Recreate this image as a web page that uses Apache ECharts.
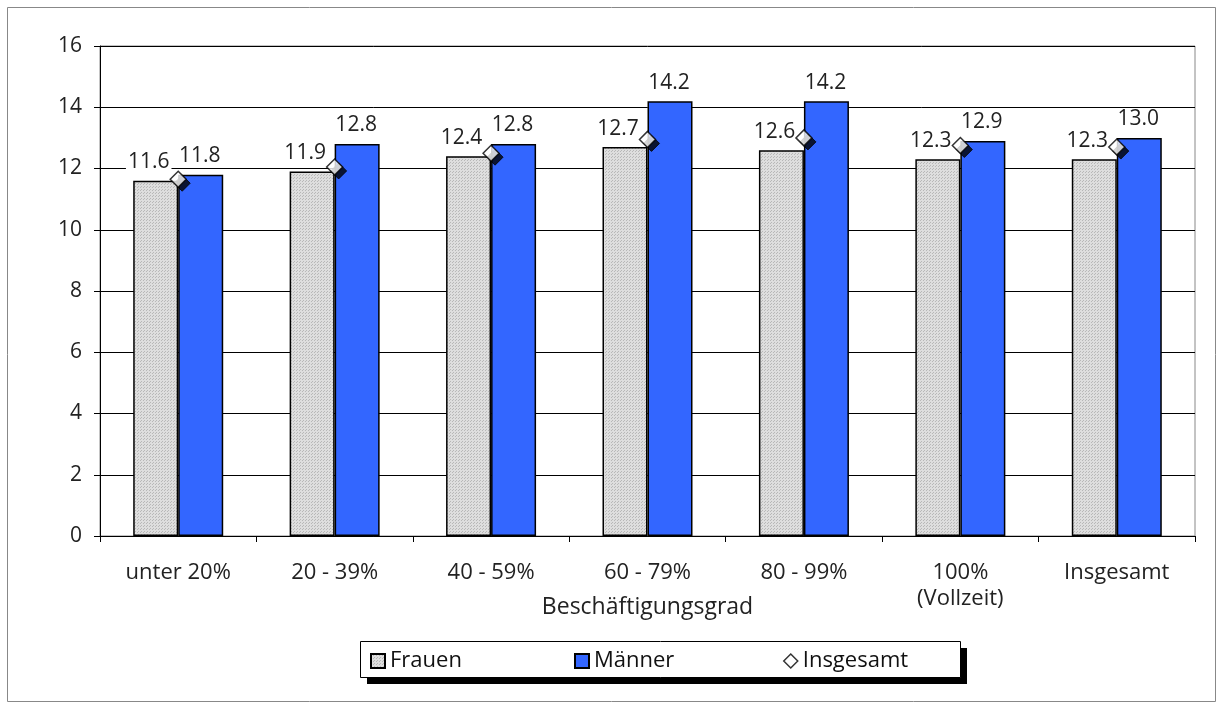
<!DOCTYPE html>
<html>
<head>
<meta charset="utf-8">
<script src="https://cdn.jsdelivr.net/npm/echarts@6/dist/echarts.min.js"></script>
<style>
html,body{margin:0;padding:0;background:#fff;}
#c{width:1218px;height:704px;}
</style>
</head>
<body>
<div id="c"></div>
<script>
const categories = ['unter 20%', '20 - 39%', '40 - 59%', '60 - 79%', '80 - 99%', '100%\n(Vollzeit)', 'Insgesamt'];
const frauen = [11.6, 11.9, 12.4, 12.7, 12.6, 12.3, 12.3];
const maenner = [11.8, 12.8, 12.8, 14.2, 14.2, 12.9, 13.0];
const insgesamt = [11.65, 12.05, 12.5, 12.95, 13.0, 12.75, 12.7];
const yTicks = [0, 2, 4, 6, 8, 10, 12, 14, 16];

const FONT = '"Open Sans", "Noto Sans", sans-serif';
const FS = 21;

function makePattern() {
  const cv = document.createElement('canvas');
  cv.width = 3; cv.height = 3;
  const ctx = cv.getContext('2d');
  ctx.fillStyle = '#dedede';
  ctx.fillRect(0, 0, 3, 3);
  ctx.fillStyle = '#b8b8b8';
  ctx.fillRect(0, 0, 1, 1);
  ctx.fillRect(2, 1, 1, 1);
  return cv;
}
const pattern = { image: makePattern(), repeat: 'repeat' };

const chart = echarts.init(document.getElementById('c'), null, { renderer: 'canvas' });

const labelCommon = {
  show: true,
  position: 'top',
  distance: 8,
  fontSize: FS,
  fontFamily: FONT,
  color: '#222',
  backgroundColor: '#fff',
  padding: [0, 2, 0, 2],
  formatter: p => p.value.toFixed(1)
};
const legendText = { fontSize: 22, fontFamily: FONT, color: '#111' };

const option = {
  animation: false,
  backgroundColor: '#fff',
  textStyle: { fontFamily: FONT },
  grid: { left: 100, right: 23, top: 46, bottom: 168, show: true, borderColor: '#888', borderWidth: 1 },
  graphic: [
    { type: 'rect', z: -10, shape: { x: 7.5, y: 7.5, width: 1208, height: 694 }, style: { fill: 'none', stroke: '#888', lineWidth: 1 } },
    { type: 'rect', z: 0, shape: { x: 367, y: 648, width: 600, height: 36 }, style: { fill: '#000' } },
    { type: 'rect', z: 1, shape: { x: 360.5, y: 641.5, width: 600, height: 36 }, style: { fill: '#fff', stroke: '#000', lineWidth: 1 } }
  ],
  legend: [
    { data: [{ name: 'Frauen', icon: 'rect' }], left: 365, top: 645, itemWidth: 14, itemHeight: 14, z: 10,
      textStyle: legendText },
    { data: [{ name: 'Männer', icon: 'rect' }], left: 569, top: 645, itemWidth: 14, itemHeight: 14, z: 10,
      textStyle: legendText },
    { data: [{ name: 'Insgesamt', itemStyle: { color: '#fff', borderColor: '#000', borderWidth: 1.5 } }], left: 778, top: 645, itemWidth: 14, itemHeight: 14, z: 10,
      textStyle: legendText }
  ],
  xAxis: {
    type: 'category',
    data: categories,
    name: 'Beschäftigungsgrad',
    nameLocation: 'middle',
    nameGap: 60,
    nameMoveOverlap: false,
    nameTextStyle: { fontSize: 23, fontFamily: FONT, color: '#222' },
    axisLine: { lineStyle: { color: '#000', width: 1 } },
    axisTick: { show: true, length: 6, lineStyle: { color: '#000' } },
    axisLabel: { fontSize: 22, fontFamily: FONT, color: '#222', margin: 24, lineHeight: 26, interval: 0 }
  },
  yAxis: {
    type: 'value',
    min: 0, max: 16, interval: 2,
    axisLine: { show: true, lineStyle: { color: '#000', width: 1 } },
    axisTick: { show: true, length: 6, lineStyle: { color: '#000' } },
    axisLabel: { fontSize: FS, fontFamily: FONT, color: '#222', margin: 18,
      formatter: v => yTicks.includes(v) ? String(v) : '' },
    splitLine: { show: true, lineStyle: { color: '#000', width: 1 } }
  },
  series: [
    {
      name: 'Frauen', type: 'bar', data: frauen,
      barWidth: 45, barGap: '0%',
      itemStyle: { color: pattern, borderColor: '#000', borderWidth: 1.5 },
      label: Object.assign({}, labelCommon, { offset: [-7, 0] }),
      z: 2
    },
    {
      name: 'Männer', type: 'bar', data: maenner,
      barWidth: 45, barGap: '0%',
      itemStyle: { color: '#3366ff', borderColor: '#000', borderWidth: 1.5 },
      label: Object.assign({}, labelCommon, { offset: [-1, 0] }),
      z: 2
    },
    {
      name: 'Insgesamt-Schatten', type: 'scatter', data: insgesamt,
      symbol: 'diamond', symbolSize: 16, symbolOffset: [4, 4],
      itemStyle: { color: '#000', borderColor: '#000', borderWidth: 1 },
      silent: true, z: 5
    },
    {
      name: 'Insgesamt', type: 'scatter', data: insgesamt,
      symbol: 'diamond', symbolSize: 16,
      itemStyle: { color: '#fff', borderColor: '#000', borderWidth: 1.5 },
      z: 6
    }
  ]
};
chart.setOption(option);
</script>
</body>
</html>
